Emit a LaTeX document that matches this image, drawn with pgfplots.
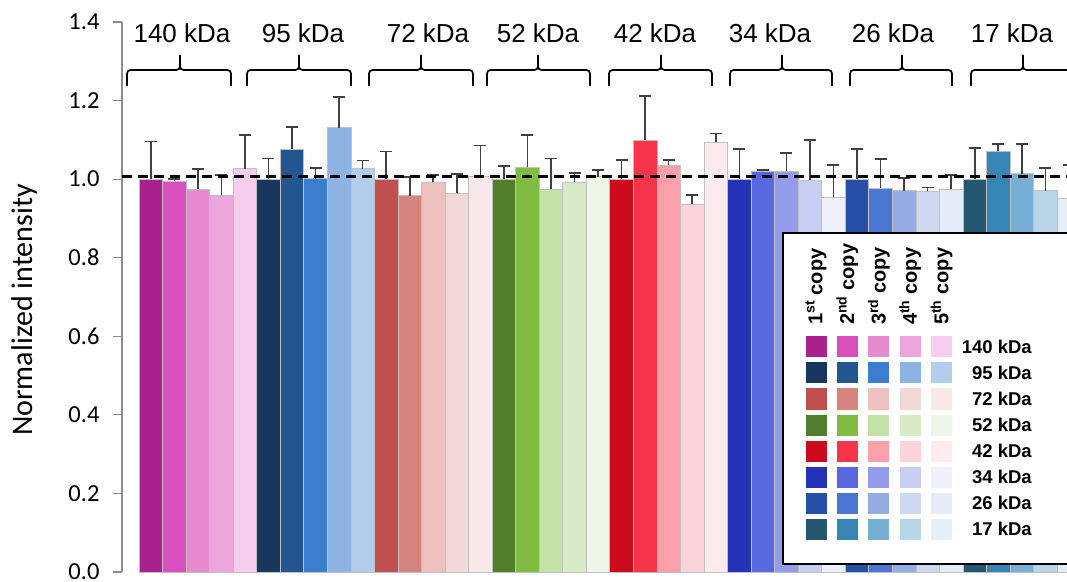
\documentclass[border=0pt]{standalone}
\usepackage{pgfplots}
\pgfplotsset{compat=1.18}
\usepackage{fontspec}
\setmainfont{Liberation Sans}
\newfontfamily\carlito{Carlito}

% shades for the five copies of each band
\definecolor{a1}{HTML}{A8218E}\definecolor{a2}{HTML}{D94FBE}\definecolor{a3}{HTML}{E68AD1}\definecolor{a4}{HTML}{EDA6DD}\definecolor{a5}{HTML}{F6CDEC}
\definecolor{b1}{HTML}{17375E}\definecolor{b2}{HTML}{23558F}\definecolor{b3}{HTML}{3B7ECF}\definecolor{b4}{HTML}{8DB3E2}\definecolor{b5}{HTML}{B3CDEC}
\definecolor{c1}{HTML}{C0504D}\definecolor{c2}{HTML}{D7837E}\definecolor{c3}{HTML}{ECC1BE}\definecolor{c4}{HTML}{F2D9D8}\definecolor{c5}{HTML}{F8E9E8}
\definecolor{d1}{HTML}{4F7F2A}\definecolor{d2}{HTML}{7FBC41}\definecolor{d3}{HTML}{C4E1A7}\definecolor{d4}{HTML}{D8EBC6}\definecolor{d5}{HTML}{EEF6E7}
\definecolor{e1}{HTML}{CC0A1B}\definecolor{e2}{HTML}{F7354A}\definecolor{e3}{HTML}{F9A0AA}\definecolor{e4}{HTML}{FBD3D9}\definecolor{e5}{HTML}{FDEBED}
\definecolor{f1}{HTML}{2233B8}\definecolor{f2}{HTML}{5868DF}\definecolor{f3}{HTML}{939CEA}\definecolor{f4}{HTML}{C8CDF2}\definecolor{f5}{HTML}{EFF0FB}
\definecolor{g1}{HTML}{2650A8}\definecolor{g2}{HTML}{4A77D4}\definecolor{g3}{HTML}{94ADE4}\definecolor{g4}{HTML}{CDD9F1}\definecolor{g5}{HTML}{E5ECF8}
\definecolor{h1}{HTML}{24566F}\definecolor{h2}{HTML}{3585B5}\definecolor{h3}{HTML}{78AFD5}\definecolor{h4}{HTML}{B9D6E9}\definecolor{h5}{HTML}{E6EFF8}
\definecolor{axisgray}{HTML}{8C8C8C}
\definecolor{errgray}{HTML}{404040}
\definecolor{barline}{HTML}{C0C0C0}

\pgfplotsset{
  onebar/.style={ybar, bar width=1, bar shift=0pt, draw=barline, line width=0.7pt, fill=#1,
    error bars/.cd, y dir=plus, y explicit,
    error bar style={line width=1.6pt, color=errgray},
    error mark options={rotate=90, mark size=6pt, line width=1.6pt, color=errgray}},
}

\begin{document}
\begin{tikzpicture}
\begin{axis}[
  scale only axis,
  width=945pt, height=550pt,
  xmin=-1.222, xmax=38.92,
  ymin=0, ymax=1.4,
  axis x line=none,
  axis y line*=left,
  axis line style={axisgray, line width=1.2pt},
  xtick=\empty,
  ytick={0,0.2,...,1.4},
  tick align=outside,
  major tick length=9pt,
  ytick style={axisgray, line width=1.2pt},
  /pgf/number format/assume math mode=true,
  yticklabel style={font=\carlito\fontsize{24.5}{28}\selectfont, xshift=-10pt,
    /pgf/number format/.cd, fixed, fixed zerofill, precision=1},
  ylabel={Normalized intensity},
  every axis y label/.style={at={(axis description cs:-0.1037,0.4764)}, rotate=90, anchor=center,
    font=\carlito\fontsize{30}{34}\selectfont},
  clip=true,
]
% 140 kDa
\addplot[onebar=a1] coordinates {(0,1.000) +- (0,0.096)};
\addplot[onebar=a2] coordinates {(1,0.995) +- (0,0.006)};
\addplot[onebar=a3] coordinates {(2,0.975) +- (0,0.051)};
\addplot[onebar=a4] coordinates {(3,0.959) +- (0,0.051)};
\addplot[onebar=a5] coordinates {(4,1.027) +- (0,0.086)};
% 95 kDa
\addplot[onebar=b1] coordinates {(5,1.000) +- (0,0.053)};
\addplot[onebar=b2] coordinates {(6,1.077) +- (0,0.056)};
\addplot[onebar=b3] coordinates {(7,1.001) +- (0,0.028)};
\addplot[onebar=b4] coordinates {(8,1.131) +- (0,0.078)};
\addplot[onebar=b5] coordinates {(9,1.027) +- (0,0.020)};
% 72 kDa
\addplot[onebar=c1] coordinates {(10,1.000) +- (0,0.070)};
\addplot[onebar=c2] coordinates {(11,0.958) +- (0,0.047)};
\addplot[onebar=c3] coordinates {(12,0.992) +- (0,0.018)};
\addplot[onebar=c4] coordinates {(13,0.964) +- (0,0.049)};
\addplot[onebar=c5] coordinates {(14,1.006) +- (0,0.080)};
% 52 kDa
\addplot[onebar=d1] coordinates {(15,1.000) +- (0,0.033)};
\addplot[onebar=d2] coordinates {(16,1.030) +- (0,0.083)};
\addplot[onebar=d3] coordinates {(17,0.974) +- (0,0.079)};
\addplot[onebar=d4] coordinates {(18,0.992) +- (0,0.024)};
\addplot[onebar=d5] coordinates {(19,1.006) +- (0,0.017)};
% 42 kDa
\addplot[onebar=e1] coordinates {(20,1.000) +- (0,0.049)};
\addplot[onebar=e2] coordinates {(21,1.100) +- (0,0.112)};
\addplot[onebar=e3] coordinates {(22,1.035) +- (0,0.014)};
\addplot[onebar=e4] coordinates {(23,0.936) +- (0,0.024)};
\addplot[onebar=e5] coordinates {(24,1.094) +- (0,0.022)};
% 34 kDa
\addplot[onebar=f1] coordinates {(25,1.000) +- (0,0.076)};
\addplot[onebar=f2] coordinates {(26,1.021) +- (0,0.003)};
\addplot[onebar=f3] coordinates {(27,1.021) +- (0,0.045)};
\addplot[onebar=f4] coordinates {(28,0.998) +- (0,0.101)};
\addplot[onebar=f5] coordinates {(29,0.954) +- (0,0.082)};
% 26 kDa
\addplot[onebar=g1] coordinates {(30,1.000) +- (0,0.076)};
\addplot[onebar=g2] coordinates {(31,0.977) +- (0,0.075)};
\addplot[onebar=g3] coordinates {(32,0.971) +- (0,0.032)};
\addplot[onebar=g4] coordinates {(33,0.969) +- (0,0.010)};
\addplot[onebar=g5] coordinates {(34,0.974) +- (0,0.036)};
% 17 kDa
\addplot[onebar=h1] coordinates {(35,1.000) +- (0,0.079)};
\addplot[onebar=h2] coordinates {(36,1.071) +- (0,0.018)};
\addplot[onebar=h3] coordinates {(37,1.014) +- (0,0.075)};
\addplot[onebar=h4] coordinates {(38,0.971) +- (0,0.058)};
\addplot[onebar=h5] coordinates {(39,0.951) +- (0,0.085)};
% reference level
\addplot[black, line width=2.6pt, dash pattern=on 10pt off 6pt, forget plot]
  coordinates {(-1.222,1.006) (40,1.006)};
\coordinate (O) at (rel axis cs:0,0);
\end{axis}

\pgfresetboundingbox
\path[use as bounding box, shift={(O)}] (-122pt,-9pt) rectangle (945pt,572pt);

\begin{scope}[shift={(O)}]
  % band brackets and names
  \foreach \xa/\xc/\xb/\xl/\name in {
     5/58/109/60/140, 125/177/229/181/95, 247/299/351/306/72, 365/416/468/416/52,
     487/539/590/533/42, 608/660/710/648/34, 728/780/830/771/26, 849/901/953/890/17}{
    \draw[line width=1.7pt, rounded corners=3.5pt] (\xa pt,486pt) -- (\xa pt,502pt) -- (\xc pt,502pt) -- (\xc pt,517pt);
    \draw[line width=1.7pt, rounded corners=3.5pt] (\xc pt,517pt) -- (\xc pt,502pt) -- (\xb pt,502pt) -- (\xb pt,486pt);
    \node[font=\fontsize{26}{30}\selectfont, inner sep=0pt] at (\xl pt,539pt) {\name\ kDa};
  }
  % legend panel
  \fill[white] (661pt,8pt) rectangle (980pt,339pt);
  \draw[line width=2pt] (980pt,339pt) -- (661pt,339pt) -- (661pt,8pt) -- (980pt,8pt);
  \foreach \t [count=\i from 0] in {1\textsuperscript{st},2\textsuperscript{nd},3\textsuperscript{rd},4\textsuperscript{th},5\textsuperscript{th}}
    \node[rotate=90, anchor=west, inner sep=0pt, font=\bfseries\fontsize{20}{24}\selectfont]
      at ({694pt+\i*31.4pt},247pt) {\t\ copy};
  \foreach \grp/\lab [count=\r from 0] in {a/140,b/95,c/72,d/52,e/42,f/34,g/26,h/17}{
    \foreach \k in {1,...,5}
      \fill[\grp\k] ({694pt+(\k-1)*31.4pt-10.5pt},{225pt-\r*26pt-10.5pt}) rectangle +(21pt,21pt);
    \node[anchor=east, inner sep=0pt, font=\bfseries\fontsize{18.5}{22}\selectfont]
      at (910pt,{225pt-\r*26pt}) {\lab\ kDa};
  }
\end{scope}
\end{tikzpicture}
\end{document}
